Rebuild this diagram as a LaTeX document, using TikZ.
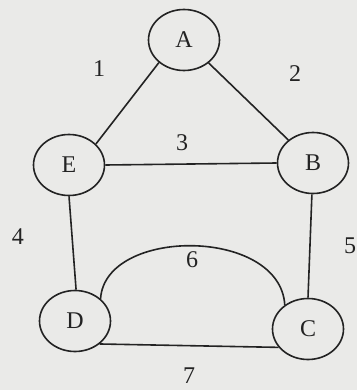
\documentclass[tikz,border=0pt]{standalone}
\usepackage{fontspec}
\setmainfont{Liberation Serif}
\usetikzlibrary{shapes.geometric}
\definecolor{bg}{RGB}{234,234,232}
\definecolor{ink}{RGB}{35,35,35}
\begin{document}
\begin{tikzpicture}[x=1pt,y=-1pt,
  vertex/.style={ellipse,draw=ink,line width=1.6pt,minimum width=71pt,minimum height=61pt,inner sep=0pt,text=ink,font=\fontsize{24}{26}\selectfont},
  edge/.style={draw=ink,line width=1.6pt},
  weight/.style={text=ink,font=\fontsize{24}{26}\selectfont,inner sep=0pt}]
\fill[bg] (0,0) rectangle (357,390);
\useasboundingbox (0,0) rectangle (357,390);
\clip (0,0) rectangle (357,390);
\node[vertex] (A) at (184,40) {A};
\node[vertex] (E) at (69,165) {E};
\node[vertex] (B) at (313,163) {B};
\node[vertex] (D) at (75,321) {D};
\node[vertex] (C) at (308,329) {C};
\draw[edge] (A.222) -- (E.38);
\draw[edge] (A.317) -- (B.137);
\draw[edge] (E.0) -- (B.180);
\draw[edge] (E.270) -- (D.88);
\draw[edge] (B.268) -- (C.90);
\draw[edge] (D.317) -- (C.212);
\draw[edge] (D.41) .. controls (105,227) and (280,227) .. (C.134);
\node[weight] (w1) at (99,69) {1};
\node[weight] (w2) at (295,74) {2};
\node[weight] (w3) at (182,143) {3};
\node[weight] (w4) at (18,237) {4};
\node[weight] (w5) at (350,246) {5};
\node[weight] (w6) at (192,260) {6};
\node[weight] (w7) at (189,376) {7};
\end{tikzpicture}
\end{document}
